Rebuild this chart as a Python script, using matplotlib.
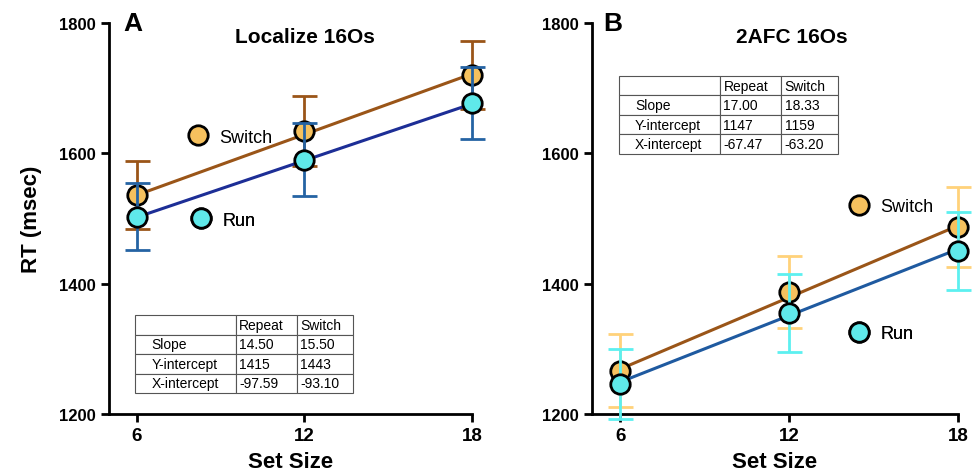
import numpy as np
import matplotlib.pyplot as plt
from matplotlib.lines import Line2D

plt.rcParams['font.family'] = ['Liberation Sans', 'DejaVu Sans']

# data
set_size = [6, 12, 18]

# panel A: Localize 16Os
a_switch = [1536, 1634, 1720]
a_switch_err = [52, 54, 52]
a_run = [1503, 1590, 1677]
a_run_err = [52, 56, 55]
a_fit_switch = (15.50, 1443)
a_fit_run = (14.50, 1415)
a_table = [['Slope', '14.50', '15.50'],
           ['Y-intercept', '1415', '1443'],
           ['X-intercept', '-97.59', '-93.10']]

# panel B: 2AFC 16Os
b_switch = [1266, 1387, 1487]
b_switch_err = [56, 55, 62]
b_run = [1246, 1355, 1450]
b_run_err = [54, 60, 60]
b_fit_switch = (18.33, 1159)
b_fit_run = (17.00, 1147)
b_table = [['Slope', '17.00', '18.33'],
           ['Y-intercept', '1147', '1159'],
           ['X-intercept', '-67.47', '-63.20']]

col_labels = ['', 'Repeat', 'Switch']

switch_fill = '#f6c15e'
run_fill = '#5fe9ea'
brown = '#9a5518'

fig = plt.figure(figsize=(9.74, 4.77), dpi=100)
axA = fig.add_axes([0.1119, 0.130, 0.3727, 0.8197])
axB = fig.add_axes([0.6078, 0.130, 0.3758, 0.8197])


def draw_panel(ax, sw, sw_err, rn, rn_err, fit_sw, fit_rn, sw_ecol, rn_ecol, rn_line):
    x = np.array(set_size, dtype=float)
    xx = np.array([6, 18], dtype=float)
    ax.errorbar(x, sw, yerr=sw_err, fmt='none', ecolor=sw_ecol, elinewidth=2,
                capsize=9, capthick=2, zorder=2, clip_on=False)
    ax.plot(xx, fit_sw[0] * xx + fit_sw[1], color=brown, lw=2.2, zorder=3, clip_on=False)
    ax.plot(x, sw, 'o', ms=14, mfc=switch_fill, mec='black', mew=2, zorder=4, clip_on=False)
    ax.errorbar(x, rn, yerr=rn_err, fmt='none', ecolor=rn_ecol, elinewidth=2,
                capsize=9, capthick=2, zorder=5, clip_on=False)
    ax.plot(xx, fit_rn[0] * xx + fit_rn[1], color=rn_line, lw=2.2, zorder=6, clip_on=False)
    ax.plot(x, rn, 'o', ms=14, mfc=run_fill, mec='black', mew=2, zorder=7, clip_on=False)

    ax.set_xlim(5.0, 18.0)
    ax.set_ylim(1200, 1800)
    ax.set_xticks(set_size)
    ax.set_yticks([1200, 1400, 1600, 1800])
    for s in ['top', 'right']:
        ax.spines[s].set_visible(False)
    for s in ['left', 'bottom']:
        ax.spines[s].set_linewidth(2)
    ax.tick_params(width=2, length=6, labelsize=12)
    for lab in ax.get_xticklabels():
        lab.set_fontweight('bold')
        lab.set_fontsize(13.5)
    for lab in ax.get_yticklabels():
        lab.set_fontweight('bold')
    ax.set_xlabel('Set Size', fontsize=16, fontweight='bold', labelpad=5)


def add_legend(ax, label, fill, loc, anchor):
    h = Line2D([], [], marker='o', ls='none', ms=14, mfc=fill, mec='black', mew=2)
    leg = ax.legend([h], [label], loc=loc, bbox_to_anchor=anchor, frameon=False,
                    fontsize=13, handletextpad=0.2, borderpad=0, borderaxespad=0)
    ax.add_artist(leg)


def add_table(ax, rows, bbox):
    tb = ax.table(cellText=[col_labels] + rows, bbox=bbox, cellLoc='left',
                  colWidths=[0.46, 0.28, 0.26])
    tb.auto_set_font_size(False)
    tb.set_fontsize(10)
    for (r, c), cell in tb.get_celld().items():
        cell.set_linewidth(0.8)
        cell.set_edgecolor('#555555')
        cell.PAD = 0.06 if c > 0 else 0.16
    tb.set_zorder(10)


draw_panel(axA, a_switch, a_switch_err, a_run, a_run_err, a_fit_switch, a_fit_run,
           brown, '#2563a3', '#1d2e96')
draw_panel(axB, b_switch, b_switch_err, b_run, b_run_err, b_fit_switch, b_fit_run,
           '#ffd27a', '#5cf0f0', '#1f5aa0')

axA.set_ylabel('RT (msec)', fontsize=16, fontweight='bold', labelpad=12)

add_legend(axA, 'Switch', switch_fill, 'center left', (0.195, 0.708))
add_legend(axA, 'Run', run_fill, 'center left', (0.203, 0.496))
add_legend(axB, 'Switch', switch_fill, 'center left', (0.68, 0.53))
add_legend(axB, 'Run', run_fill, 'center left', (0.68, 0.205))

add_table(axA, a_table, [0.073, 0.053, 0.60, 0.20])
add_table(axB, b_table, [0.073, 0.665, 0.60, 0.20])

axA.text(0.54, 0.965, 'Localize 16Os', transform=axA.transAxes, fontsize=15,
         fontweight='bold', ha='center', va='center')
axB.text(0.546, 0.965, '2AFC 16Os', transform=axB.transAxes, fontsize=15,
         fontweight='bold', ha='center', va='center')
axA.text(0.04, 1.0, 'A', transform=axA.transAxes, fontsize=19, fontweight='bold',
         va='center', ha='left')
axB.text(0.03, 1.0, 'B', transform=axB.transAxes, fontsize=19, fontweight='bold',
         va='center', ha='left')

fig.savefig('out.png', dpi=100)
